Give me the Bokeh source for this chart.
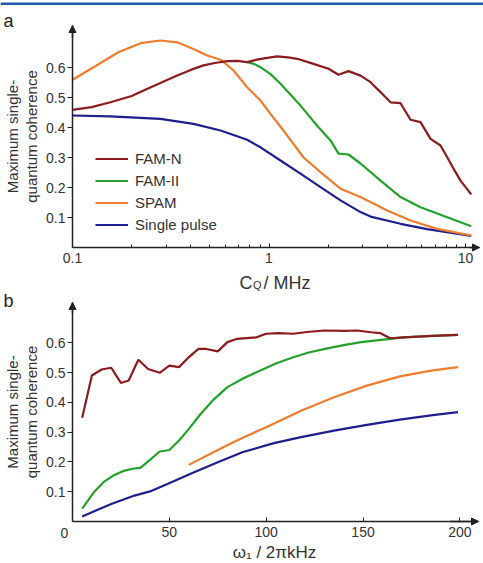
import math
from bokeh.plotting import figure
from bokeh.layouts import column
from bokeh.models import (Range1d, FixedTicker, Legend, LegendItem, Label, Arrow,
                          NormalHead, BoxAnnotation)
from bokeh.embed import file_html
from bokeh.resources import INLINE

# ---------------- data: panel a (C_Q in MHz) ----------------
cq_famn = [0.1, 0.125, 0.156, 0.2, 0.23, 0.28, 0.341, 0.4, 0.464, 0.53, 0.613, 0.69, 0.774,
           0.88, 1.018, 1.10, 1.25, 1.392, 1.684, 2.009, 2.258, 2.54, 2.922, 3.285, 3.694,
           4.153, 4.67, 5.25, 5.90, 6.64, 7.46, 8.07, 8.69, 9.43, 10.7]
famn_a = [0.459, 0.468, 0.484, 0.505, 0.523, 0.548, 0.573, 0.592, 0.607, 0.615, 0.621, 0.622,
          0.618, 0.627, 0.634, 0.637, 0.634, 0.629, 0.612, 0.596, 0.576, 0.588, 0.573, 0.551,
          0.518, 0.484, 0.481, 0.426, 0.418, 0.362, 0.34, 0.301, 0.263, 0.223, 0.177]

cq_famii = [0.774, 0.84, 0.905, 1.018, 1.144, 1.446, 1.786, 2.056, 2.258, 2.54, 2.922, 3.694,
            4.67, 5.90, 8.07, 10.7]
famii_a = [0.618, 0.612, 0.601, 0.578, 0.546, 0.473, 0.401, 0.357, 0.313, 0.31, 0.28, 0.223,
           0.168, 0.134, 0.101, 0.071]

cq_spam = [0.1, 0.128, 0.171, 0.222, 0.28, 0.341, 0.413, 0.485, 0.567, 0.66, 0.774, 0.905,
           1.018, 1.185, 1.333, 1.499, 1.866, 2.312, 2.922, 3.995, 5.25, 7.18, 10.7]
spam_a = [0.559, 0.601, 0.651, 0.681, 0.69, 0.684, 0.662, 0.64, 0.626, 0.59, 0.534, 0.49,
          0.445, 0.39, 0.345, 0.30, 0.246, 0.196, 0.168, 0.123, 0.09, 0.062, 0.04]

cq_sp = [0.1, 0.156, 0.28, 0.413, 0.567, 0.774, 0.905, 1.144, 1.446, 1.829, 2.312, 2.922,
         3.285, 4.67, 6.38, 10.7]
sp_a = [0.44, 0.437, 0.429, 0.412, 0.39, 0.359, 0.334, 0.29, 0.246, 0.201, 0.157, 0.118,
        0.103, 0.079, 0.061, 0.039]

# ---------------- data: panel b (omega1 / 2pi kHz) ----------------
w1_famn = [5, 10, 15, 20, 25, 29, 34, 39, 45, 50, 55, 60, 65, 69, 75, 80, 85, 95, 100, 106,
           114, 121, 130, 140, 147, 154, 159, 164, 171, 183, 199]
famn_b = [0.348, 0.49, 0.51, 0.516, 0.465, 0.473, 0.543, 0.512, 0.499, 0.523, 0.518, 0.551,
          0.579, 0.579, 0.571, 0.602, 0.613, 0.618, 0.63, 0.632, 0.63, 0.636, 0.641, 0.64,
          0.641, 0.635, 0.632, 0.615, 0.618, 0.622, 0.626]

w1_famii = [5, 11, 16, 21, 26, 31, 35, 40, 45, 50, 55, 60, 66, 73, 80, 88, 97, 105, 114, 122,
            131, 140, 149, 157, 164, 171, 183, 199]
famii_b = [0.043, 0.098, 0.132, 0.154, 0.169, 0.177, 0.18, 0.207, 0.235, 0.24, 0.272, 0.31,
           0.36, 0.41, 0.451, 0.48, 0.507, 0.53, 0.551, 0.567, 0.58, 0.592, 0.602, 0.608,
           0.613, 0.618, 0.622, 0.626]

w1_spam = [60, 73, 83, 95, 100, 118, 135, 152, 169, 186, 199]
spam_b = [0.19, 0.233, 0.266, 0.302, 0.316, 0.372, 0.417, 0.456, 0.487, 0.507, 0.518]

w1_sp = [5, 20, 32, 40, 49, 61, 75, 88, 104, 118, 135, 152, 169, 186, 199]
sp_b = [0.017, 0.059, 0.087, 0.101, 0.126, 0.16, 0.199, 0.233, 0.263, 0.283, 0.305, 0.324,
        0.342, 0.357, 0.367]

series_names = ["FAM-N", "FAM-II", "SPAM", "Single pulse"]
y_ticks = [0.1, 0.2, 0.3, 0.4, 0.5, 0.6]
xa_ticks = [0.1, 1, 10]
xa_minor = [0.2, 0.3, 0.4, 0.5, 0.6, 0.7, 0.8, 0.9, 2, 3, 4, 5, 6, 7, 8, 9]
xb_ticks = [0, 50, 100, 150, 200]
y_label = "Maximum single-\nquantum coherence"

FONT = "Liberation Sans"
TXT = "#333333"
AX = "#222222"
COLORS = {"FAM-N": "#8c1b1f", "FAM-II": "#26a02c", "SPAM": "#ef7d2e", "Single pulse": "#1e1e8e"}
LW = 2.2
W = 483
H1, H2 = 292, 271
BL = 6  # correction for alphabetic baseline placement

# ---- pixel geometry of the two panels (canvas px) ----
AX_X = 72              # y axis position
A_DEC = 196.5          # px per decade, panel a
A_Y0, A_PY = 247, 300  # y=0 pixel and px per unit, panel a
B_PX = 1.937           # px per kHz, panel b
B_Y0, B_PY = 521, 298  # y=0 pixel (canvas) and px per unit, panel b


def style(p):
    p.xgrid.visible = False
    p.ygrid.visible = False
    p.outline_line_color = None
    p.background_fill_color = "white"
    p.border_fill_color = "white"
    for ax in p.axis:
        ax.axis_line_color = AX
        ax.axis_line_width = 1.5
        ax.major_tick_line_color = AX
        ax.major_tick_line_width = 1
        ax.minor_tick_line_color = AX
        ax.major_label_text_font = FONT
        ax.major_label_text_font_size = "14px"
        ax.major_label_text_color = TXT
        ax.axis_label_text_font = FONT
        ax.axis_label_text_font_style = "normal"
        ax.axis_label_text_color = TXT
        ax.axis_label_text_font_size = "15px"
    p.xaxis.major_tick_in = 4
    p.xaxis.major_tick_out = 0
    p.xaxis.minor_tick_in = 3
    p.xaxis.minor_tick_out = 0
    p.xaxis.major_label_standoff = 5
    p.yaxis.major_tick_in = 0
    p.yaxis.major_tick_out = 5
    p.yaxis.minor_tick_line_color = None
    p.yaxis.major_label_standoff = 2
    p.yaxis.ticker = FixedTicker(ticks=y_ticks)
    p.yaxis.axis_label = y_label
    p.yaxis.axis_label_standoff = 3
    p.yaxis.axis_label_text_line_height = 1.1


def arrows(p, x0, x1, y1, ys, xs):
    head = dict(size=7, fill_color=AX, line_color=AX, line_width=1)
    p.add_layout(Arrow(end=NormalHead(**head), x_start=x0, y_start=ys, x_end=x0, y_end=y1,
                       line_color=AX, line_width=1.5))
    p.add_layout(Arrow(end=NormalHead(**head), x_start=xs, y_start=0, x_end=x1, y_end=0,
                       line_color=AX, line_width=1.5))


def label(p, x, y, text, size, align="left", baseline="alphabetic", color=TXT):
    p.add_layout(Label(x=x, y=y, x_units="screen", y_units="screen", text=text,
                       text_font=FONT, text_font_size=size, text_color=color,
                       text_align=align, text_baseline=baseline))


# ---------------- panel a ----------------
xa_lo = 10 ** (-1 - AX_X / A_DEC)
xa_hi = 10 ** (-1 + (W - AX_X) / A_DEC)
xa_tip = 10 ** (-1 + (479 - AX_X) / A_DEC)
ya_lo = (A_Y0 - H1) / A_PY
ya_hi = A_Y0 / A_PY
ya_tip = (A_Y0 - 25) / A_PY

p1 = figure(width=W, height=H1, x_axis_type="log", x_range=Range1d(xa_lo, xa_hi),
            y_range=Range1d(ya_lo, ya_hi), output_backend="svg", toolbar_location=None,
            min_border=0)
p1.title.visible = False
style(p1)
p1.xaxis.fixed_location = 0
p1.yaxis.fixed_location = 0.1
p1.xaxis.bounds = (0.1, xa_tip)
p1.yaxis.bounds = (0, ya_tip)
p1.xaxis.ticker = FixedTicker(ticks=xa_ticks, minor_ticks=xa_minor)
p1.xaxis.major_label_overrides = {0.1: "0.1", 1: "1", 10: "10"}

r_sp = p1.line(cq_sp, sp_a, line_color=COLORS["Single pulse"], line_width=LW)
r_spam = p1.line(cq_spam, spam_a, line_color=COLORS["SPAM"], line_width=LW)
r_famii = p1.line(cq_famii, famii_a, line_color=COLORS["FAM-II"], line_width=LW)
r_famn = p1.line(cq_famn, famn_a, line_color=COLORS["FAM-N"], line_width=LW)

legend = Legend(items=[LegendItem(label=series_names[0], renderers=[r_famn]),
                       LegendItem(label=series_names[1], renderers=[r_famii]),
                       LegendItem(label=series_names[2], renderers=[r_spam]),
                       LegendItem(label=series_names[3], renderers=[r_sp])],
                location=(95, 57), border_line_color=None, background_fill_alpha=0,
                padding=0, margin=0, spacing=1, glyph_width=33, glyph_height=21,
                label_height=21, label_standoff=7, label_text_font=FONT,
                label_text_font_size="15px", label_text_color=TXT)
p1.add_layout(legend, "center")
arrows(p1, 0.1, xa_tip, ya_tip, 0.70, 10.5)

label(p1, 239, H1 - 288 + BL, "C", "18px")
label(p1, 252.5, H1 - 290.5 + BL, "Q", "11px")
label(p1, 263, H1 - 288 + BL, "/ MHz", "18px")
label(p1, 3, H1 - 26 + BL, "a", "18px", color="#222222")
p1.add_layout(BoxAnnotation(left=0, right=W, top=H1 - 2, bottom=H1 - 4.5,
                            left_units="screen", right_units="screen",
                            top_units="screen", bottom_units="screen",
                            fill_color="#1f5aa6", fill_alpha=1, line_color=None))

# ---------------- panel b ----------------
OFF = H1  # canvas offset of panel b
xb_lo = -AX_X / B_PX
xb_hi = (W - AX_X) / B_PX
xb_tip = (478 - AX_X) / B_PX
yb_lo = (B_Y0 - (OFF + H2)) / B_PY
yb_hi = (B_Y0 - OFF) / B_PY
yb_tip = (B_Y0 - 302) / B_PY

p2 = figure(width=W, height=H2, x_range=Range1d(xb_lo, xb_hi), y_range=Range1d(yb_lo, yb_hi),
            output_backend="svg", toolbar_location=None, min_border=0)
p2.title.visible = False
style(p2)
p2.xaxis.fixed_location = 0
p2.yaxis.fixed_location = 0
p2.xaxis.bounds = (0, xb_tip)
p2.yaxis.bounds = (0, yb_tip)
p2.xaxis.ticker = FixedTicker(ticks=xb_ticks)
p2.xaxis.minor_tick_line_color = None
p2.xaxis.major_label_overrides = {0: ""}

p2.line(w1_sp, sp_b, line_color=COLORS["Single pulse"], line_width=LW)
p2.line(w1_spam, spam_b, line_color=COLORS["SPAM"], line_width=LW)
p2.line(w1_famii, famii_b, line_color=COLORS["FAM-II"], line_width=LW)
p2.line(w1_famn, famn_b, line_color=COLORS["FAM-N"], line_width=LW)
arrows(p2, 0, xb_tip, yb_tip, 0.70, 195)

label(p2, 64, OFF + H2 - 527, "0", "14px", align="center", baseline="top")
label(p2, 274, OFF + H2 - 558 + BL, "ω₁ / 2πkHz", "17px", align="center")
label(p2, 3, OFF + H2 - 306 + BL, "b", "18px", color="#222222")

layout = column(p1, p2, spacing=0)
open("out.html", "w").write(file_html(layout, INLINE))
